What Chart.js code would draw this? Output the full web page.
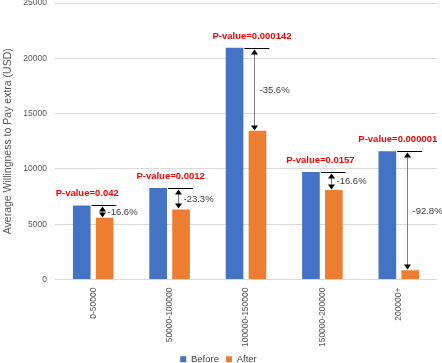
<!DOCTYPE html>
<html>
<head>
<meta charset="utf-8">
<script src="https://cdn.jsdelivr.net/npm/chart.js@4.4.1/dist/chart.umd.min.js"></script>
<style>
  html, body { margin: 0; padding: 0; background: #fff; }
  #wrap { width: 442px; height: 363px; position: relative; }
</style>
</head>
<body>
<div id="wrap"><canvas id="wtpChart"></canvas></div>
<script>
/* ---------- data ---------- */
const incomeGroups = ['0-50000', '50000-100000', '100000-150000', '150000-200000', '200000+'];
const beforeWtp    = [6700, 8270, 20950, 9720, 11600];
const afterWtp     = [5590, 6340, 13450, 8100, 830];
const changeLabels = ['-16.6%', '-23.3%', '-35.6%', '-16.6%', '-92.8%'];
const pValues      = ['0.042', '0.0012', '0.000142', '0.0157', '0.000001'];
const yTicks       = [0, 5000, 10000, 15000, 20000, 25000];

// small horizontal nudges for the p-value captions (they were hand placed)
const pNudge = [-6, 1, 6, -2, -1];

const FONT = "'Liberation Sans', Arial, sans-serif";

/* ---------- arrows + captions ---------- */
const changeArrows = {
  id: 'changeArrows',
  afterDatasetsDraw(chart) {
    const { ctx, scales: { y } } = chart;
    const blue = chart.getDatasetMeta(0).data;
    const orange = chart.getDatasetMeta(1).data;

    const head = (x, tipY, dir) => {
      ctx.beginPath();
      ctx.moveTo(x, tipY);
      ctx.lineTo(x - 3.5, tipY - dir * 5);
      ctx.lineTo(x + 3.5, tipY - dir * 5);
      ctx.closePath();
      ctx.fill();
    };

    ctx.save();
    blue.forEach((b, i) => {
      const o = orange[i];
      const yB = Math.round(y.getPixelForValue(beforeWtp[i])) + 0.5;
      const yA = Math.round(y.getPixelForValue(afterWtp[i])) + 0.5;
      const ax = Math.round(o.x - 3) + 0.5;

      // level line at the "before" value
      ctx.strokeStyle = '#000';
      ctx.lineWidth = 1;
      ctx.beginPath();
      ctx.moveTo(b.x + b.width / 2 + 1, yB);
      ctx.lineTo(o.x + o.width / 2 + 3, yB);
      ctx.stroke();

      // shaft
      ctx.strokeStyle = '#808080';
      ctx.beginPath();
      ctx.moveTo(ax, yB + 3);
      ctx.lineTo(ax, yA - 3);
      ctx.stroke();

      ctx.fillStyle = '#000';
      head(ax, yB + 1, -1);
      head(ax, yA - 1, 1);

      // percent change
      ctx.font = '9.5px ' + FONT;
      ctx.fillStyle = '#404040';
      ctx.textAlign = 'left';
      ctx.textBaseline = 'middle';
      ctx.fillText(changeLabels[i], ax + 5, (yB + yA) / 2);

      // p-value caption
      ctx.font = 'bold 9.5px ' + FONT;
      ctx.fillStyle = '#ff0000';
      ctx.textAlign = 'center';
      ctx.fillText('P-value=' + pValues[i], (b.x + o.x) / 2 + pNudge[i], yB - 12);
    });
    ctx.restore();
  }
};

/* ---------- chart ---------- */
new Chart(document.getElementById('wtpChart'), {
  type: 'bar',
  data: {
    labels: incomeGroups,
    datasets: [
      {
        label: 'Before',
        data: beforeWtp,
        backgroundColor: '#4472c4',
        categoryPercentage: 0.6,
        barPercentage: 0.77,
      },
      {
        label: 'After',
        data: afterWtp,
        backgroundColor: '#ed7d31',
        categoryPercentage: 0.6,
        barPercentage: 0.77,
      },
    ],
  },
  options: {
    responsive: true,
    maintainAspectRatio: false,
    animation: false,
    layout: { padding: { top: 0, right: 5, bottom: -11, left: 0 } },
    plugins: {
      legend: {
        position: 'bottom',
        labels: {
          boxWidth: 6, boxHeight: 6, padding: 7,
          color: '#404040',
          font: { family: FONT, size: 9.5 },
        },
      },
      tooltip: { enabled: false },
    },
    scales: {
      x: {
        grid: { display: false, drawTicks: false },
        border: { display: false },
        ticks: {
          minRotation: 90, maxRotation: 90, padding: 8,
          color: '#595959',
          font: { family: FONT, size: 8.5 },
        },
        afterFit: s => { s.height = 68; },
      },
      y: {
        min: 0, max: 25000,
        afterBuildTicks: s => { s.ticks = yTicks.map(v => ({ value: v })); },
        grid: { color: '#d9d9d9', drawTicks: false },
        border: { display: false },
        ticks: {
          padding: 8,
          color: '#595959',
          font: { family: FONT, size: 8.5 },
          callback: v => String(v),
        },
        title: {
          display: true,
          text: 'Average Willingness to Pay extra (USD)',
          color: '#595959',
          padding: { top: 2, bottom: 0 },
          font: { family: FONT, size: 10.5 },
        },
        afterFit: s => { s.width = 55; s.paddingTop = 3; s.paddingBottom = 0; },
      },
    },
  },
  plugins: [changeArrows],
});
</script>
</body>
</html>
